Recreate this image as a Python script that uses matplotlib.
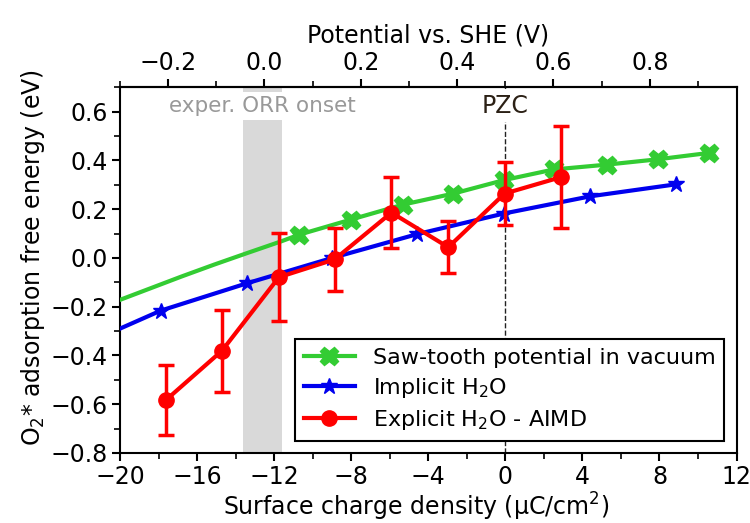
import numpy as np
import matplotlib.pyplot as plt
from matplotlib.ticker import MultipleLocator, FixedLocator

# --- datos ---
# Saw-tooth (vacio): tramo de la curva a la izquierda + puntos calculados
saw_x = [-20.0, -18.5, -16.8, -15.1, -13.4, -11.6, -10.72, -8.03, -5.30, -2.70,
         -0.09, 2.51, 5.29, 7.94, 10.58]
saw_y = [-0.172, -0.127, -0.076, -0.027, 0.020, 0.069, 0.095, 0.157, 0.219, 0.264,
         0.319, 0.363, 0.383, 0.405, 0.431]
saw_marks = list(range(6, 15))

# H2O implicito
imp_x = [-20.0, -17.88, -13.41, -8.99, -4.56, -0.09, 4.42, 8.85]
imp_y = [-0.29, -0.216, -0.104, 0.0, 0.098, 0.182, 0.253, 0.302]
imp_marks = list(range(1, 8))

# H2O explicito - AIMD
aimd_x = [-17.63, -14.71, -11.75, -8.86, -5.91, -2.96, -0.04, 2.91]
aimd_y = [-0.584, -0.381, -0.079, -0.006, 0.186, 0.044, 0.264, 0.332]
aimd_err = [0.143, 0.167, 0.18, 0.13, 0.147, 0.107, 0.13, 0.21]

onset_span = (-13.6, -11.6)
pzc = 0.0
top_ticks = [-0.2, 0.0, 0.2, 0.4, 0.6, 0.8]

def sigma_to_U(s):
    return 0.5 + 0.04 * s

def U_to_sigma(u):
    return (u - 0.5) / 0.04

plt.rcParams['font.family'] = 'DejaVu Sans'
plt.rcParams['font.size'] = 17

fig = plt.figure(figsize=(7.5, 5.23), dpi=100)
ax = fig.add_axes([0.16, 0.134, 0.822, 0.699])

ax.axvspan(*onset_span, color='#d9d9d9', lw=0, zorder=0)
ax.axvline(pzc, color='#222222', ls='--', lw=1.0, zorder=1)

ax.plot(saw_x, saw_y, '-', color='#33cc33', lw=3, marker='X', ms=13,
        markevery=saw_marks, label='Saw-tooth potential in vacuum', zorder=3)
ax.plot(imp_x, imp_y, '-', color='#0000ee', lw=3, marker='*', ms=12,
        markevery=imp_marks, label='Implicit H$_2$O', zorder=4)
ax.errorbar(aimd_x, aimd_y, yerr=aimd_err, fmt='none', ecolor='#ff0000',
            capsize=5.5, capthick=2.5, elinewidth=2.5, zorder=5)
ax.plot(aimd_x, aimd_y, '-', color='#ff0000', lw=3, marker='o', ms=11,
        label='Explicit H$_2$O - AIMD', zorder=6)

ax.text(sum(onset_span) / 2, 0.625, 'exper. ORR onset', color='#999999',
        fontsize=15.5, ha='center', va='center', zorder=2,
        bbox=dict(facecolor='white', edgecolor='none', pad=3))
ax.text(pzc, 0.625, 'PZC', color='#2b2015', fontsize=17, ha='center',
        va='center', zorder=2,
        bbox=dict(facecolor='white', edgecolor='none', pad=3))

ax.set_xlim(-20, 12)
ax.set_ylim(-0.8, 0.7)
ax.xaxis.set_major_locator(MultipleLocator(4))
ax.xaxis.set_minor_locator(MultipleLocator(2))
ax.yaxis.set_major_locator(MultipleLocator(0.2))
ax.yaxis.set_minor_locator(MultipleLocator(0.1))
ax.set_xlabel('Surface charge density (μC/cm$^2$)', labelpad=1, x=0.48)
ax.set_ylabel('O$_2$* adsorption free energy (eV)', labelpad=2, y=0.535)

for s in ax.spines.values():
    s.set_linewidth(1.5)
ax.tick_params(which='major', length=6, width=1.5, pad=3)
ax.tick_params(which='minor', length=4, width=1.2)

top = ax.secondary_xaxis('top', functions=(sigma_to_U, U_to_sigma))
top.xaxis.set_major_locator(FixedLocator(top_ticks))
top.xaxis.set_minor_locator(FixedLocator(np.arange(-0.3, 0.95, 0.1)))
top.tick_params(which='major', length=6, width=1.5, pad=3)
top.tick_params(which='minor', length=4, width=1.2)
top.spines['top'].set_linewidth(1.5)
top.set_xlabel('Potential vs. SHE (V)', labelpad=6)

leg = ax.legend(loc='lower right', fontsize=16, fancybox=False,
                framealpha=1, edgecolor='black', borderaxespad=0.55,
                handlelength=2.3, borderpad=0.4, labelspacing=0.35)
leg.get_frame().set_linewidth(1.5)
leg.set_zorder(10)

fig.savefig('out.png', dpi=100)
